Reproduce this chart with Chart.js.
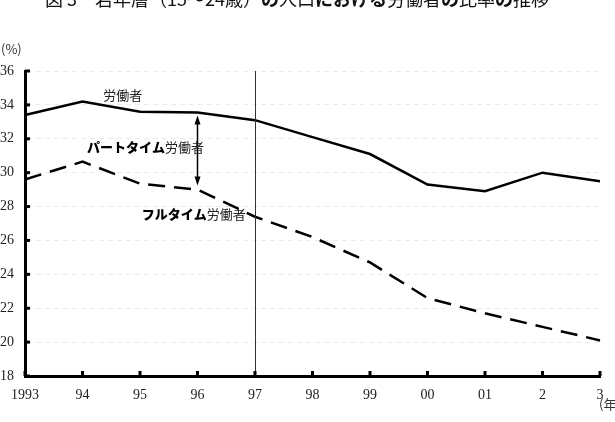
<!DOCTYPE html>
<html>
<head>
<meta charset="utf-8">
<script src="https://cdn.jsdelivr.net/npm/chart.js@4"></script>
<style>
  body { margin: 0; background: #fff; }
  #wrap { width: 615px; height: 422px; }
</style>
</head>
<body>
<div id="wrap"><canvas id="ratio-chart" width="615" height="422"></canvas></div>
<script>
/**
 * Data
 */
const years = ['1993', '94', '95', '96', '97', '98', '99', '00', '01', '2', '3'];
// 労働者（パートタイム含む）の比率 (%)
const workers = [33.4, 34.2, 33.6, 33.55, 33.1, 32.1, 31.1, 29.3, 28.9, 30.0, 29.5];
// フルタイム労働者の比率 (%)
const fullTime = [29.6, 30.65, 29.35, 29.0, 27.4, 26.2, 24.7, 22.6, 21.7, 20.9, 20.1];
const yTicks = [18, 20, 22, 24, 26, 28, 30, 32, 34, 36];

const titleParts = [
  ['図 3　若年層（15～24歳）', 'normal'],
  ['の', 'bold'],
  ['人口', 'normal'],
  ['における', 'bold'],
  ['労働者', 'normal'],
  ['の', 'bold'],
  ['比率', 'normal'],
  ['の', 'bold'],
  ['推移', 'normal']
];

const JP = '"Noto Sans CJK JP", "Noto Sans", sans-serif';
const SERIF = '"Liberation Serif", "DejaVu Serif", serif';

/**
 * Extra drawing: title, axis units, tick marks, 1997 line, arrow, labels
 */
const extras = {
  id: 'extras',
  afterDraw(chart) {
    const ctx = chart.ctx;
    const x = chart.scales.x;
    const y = chart.scales.y;
    const area = chart.chartArea;
    ctx.save();

    // title (clipped at the top edge like the original)
    ctx.fillStyle = '#111';
    ctx.textBaseline = 'alphabetic';
    let total = 0;
    titleParts.forEach(([t, w]) => {
      ctx.font = w + ' 18px ' + JP;
      total += ctx.measureText(t).width;
    });
    let tx = 297 - total / 2;
    titleParts.forEach(([t, w]) => {
      ctx.font = w + ' 18px ' + JP;
      ctx.fillText(t, tx, 6);
      tx += ctx.measureText(t).width;
    });

    // units
    ctx.font = '13px ' + JP;
    ctx.textAlign = 'left';
    ctx.textBaseline = 'middle';
    ctx.fillStyle = '#333';
    ctx.fillText('(%)', 1, 49);
    ctx.fillText('(年)', 599, 404);

    // 1997 vertical line
    const x97 = x.getPixelForValue(years.indexOf('97'));
    ctx.strokeStyle = '#333';
    ctx.lineWidth = 1;
    ctx.beginPath();
    ctx.moveTo(x97 + 0.5, area.top);
    ctx.lineTo(x97 + 0.5, area.bottom);
    ctx.stroke();

    // tick marks on the inside of the axes
    ctx.strokeStyle = '#000';
    ctx.lineWidth = 3;
    yTicks.forEach(v => {
      const py = y.getPixelForValue(v);
      ctx.beginPath();
      ctx.moveTo(area.left, py);
      ctx.lineTo(area.left + 5, py);
      ctx.stroke();
    });
    years.forEach((_, i) => {
      const px = x.getPixelForValue(i);
      ctx.beginPath();
      ctx.moveTo(px, area.bottom);
      ctx.lineTo(px, area.bottom - 5);
      ctx.stroke();
    });

    // arrow at 1996 between the two series
    const i96 = years.indexOf('96');
    const ax = x.getPixelForValue(i96);
    const top = y.getPixelForValue(workers[i96]) + 3;
    const bot = y.getPixelForValue(fullTime[i96]) - 4;
    ctx.lineWidth = 1.5;
    ctx.beginPath();
    ctx.moveTo(ax, top + 6);
    ctx.lineTo(ax, bot - 6);
    ctx.stroke();
    ctx.fillStyle = '#000';
    ctx.beginPath();
    ctx.moveTo(ax, top);
    ctx.lineTo(ax - 3, top + 9);
    ctx.lineTo(ax + 3, top + 9);
    ctx.closePath();
    ctx.fill();
    ctx.beginPath();
    ctx.moveTo(ax, bot);
    ctx.lineTo(ax - 3, bot - 9);
    ctx.lineTo(ax + 3, bot - 9);
    ctx.closePath();
    ctx.fill();

    // series labels
    ctx.textAlign = 'left';
    ctx.textBaseline = 'middle';
    ctx.fillStyle = '#222';
    ctx.font = '13px ' + JP;
    ctx.fillText('労働者', x.getPixelForValue(1.36), y.getPixelForValue(34.6));

    const label = (bold, rest, xi, v) => {
      let lx = x.getPixelForValue(xi);
      const ly = y.getPixelForValue(v);
      ctx.font = '900 13px ' + JP;
      ctx.fillStyle = '#000';
      ctx.fillText(bold, lx, ly);
      lx += ctx.measureText(bold).width;
      ctx.font = '13px ' + JP;
      ctx.fillStyle = '#222';
      ctx.fillText(rest, lx, ly);
    };
    label('パートタイム', '労働者', 1.08, 31.5);
    label('フルタイム', '労働者', 2.03, 27.55);

    ctx.restore();
  }
};

/**
 * Chart
 */
const createChart = () => {
  const ctx = document.getElementById('ratio-chart').getContext('2d');

  new Chart(ctx, {
    type: 'line',
    data: {
      labels: years,
      datasets: [
        {
          label: '労働者',
          data: workers,
          borderColor: '#000',
          borderWidth: 2.5,
          pointRadius: 0,
          tension: 0,
          fill: false
        },
        {
          label: 'フルタイム労働者',
          data: fullTime,
          borderColor: '#000',
          borderWidth: 2.5,
          borderDash: [17, 9],
          pointRadius: 0,
          tension: 0,
          fill: false
        }
      ]
    },
    options: {
      responsive: false,
      animation: false,
      layout: { padding: { top: 71, right: 15, left: 0, bottom: 0 } },
      plugins: {
        legend: { display: false },
        tooltip: { enabled: false },
        title: { display: false }
      },
      scales: {
        x: {
          offset: false,
          grid: { drawOnChartArea: false, drawTicks: false },
          border: { display: true, color: '#000', width: 3 },
          ticks: {
            color: '#222',
            padding: 11,
            maxRotation: 0,
            autoSkip: false,
            font: { family: SERIF, size: 14 }
          },
          afterFit: (scale) => { scale.height = 46; }
        },
        y: {
          min: 18,
          max: 36,
          grid: { color: '#ebebeb', lineWidth: 1, drawTicks: false },
          border: { display: true, color: '#000', width: 3, dash: [5, 4] },
          ticks: {
            stepSize: 2,
            color: '#222',
            padding: 11,
            font: { family: SERIF, size: 14 }
          },
          afterFit: (scale) => { scale.width = 25; }
        }
      }
    },
    plugins: [extras]
  });
};

document.addEventListener('DOMContentLoaded', () => {
  createChart();
});
</script>
</body>
</html>
